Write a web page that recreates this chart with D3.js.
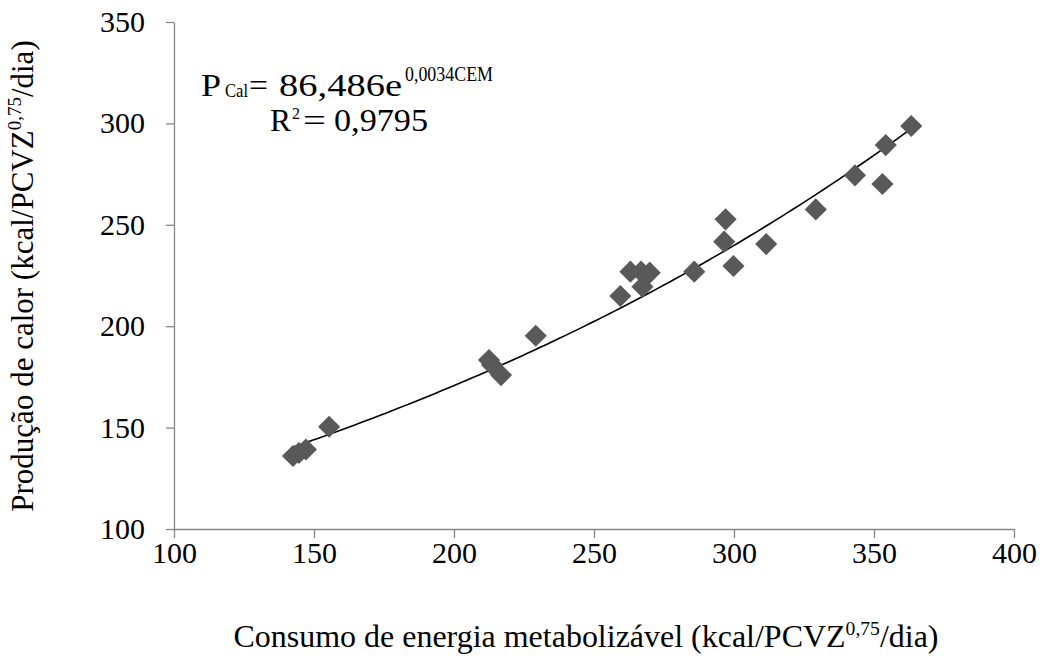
<!DOCTYPE html>
<html><head><meta charset="utf-8">
<script src="https://cdn.jsdelivr.net/npm/d3@7"></script>
<style>body{margin:0;background:#fff}svg{display:block}text{font-family:"Liberation Serif","Times New Roman",serif;fill:#000}</style>
</head><body><svg id="c" width="1043" height="659"></svg>
<script>
const cem = [142.5,144.6,147.1,155.4,212.5,213.6,216.8,229.2,259.4,263.0,266.8,269.9,267.3,285.8,297.0,296.5,299.8,311.5,329.2,343.2,353.0,354.2,363.3];
const pcal = [136.0,137.5,139.2,150.4,183.3,180.9,175.9,195.3,214.9,226.9,226.9,226.4,219.5,226.9,252.7,241.7,229.7,240.5,257.6,274.4,270.1,289.3,298.7];
const xTicks = [100,150,200,250,300,350,400];
const yTicks = [100,150,200,250,300,350];
const fitA = 86.486, fitB = 0.0034;
const fitRange = [142.5, 363.3];

const svg = d3.select("#c");
const x = d3.scaleLinear().domain([100,400]).range([174,1014]);
const y = d3.scaleLinear().domain([100,350]).range([529,22]);

const gx = svg.append("g").attr("transform","translate(0,529)")
  .call(d3.axisBottom(x).tickValues(xTicks).tickSize(9).tickSizeOuter(0).tickPadding(0));
const gy = svg.append("g").attr("transform","translate(174,0)")
  .call(d3.axisLeft(y).tickValues(yTicks).tickSize(8).tickSizeOuter(0).tickPadding(0));
[gx,gy].forEach(g=>{
  g.select(".domain").attr("stroke","#868686").attr("stroke-width",1.3);
  g.selectAll(".tick line").attr("stroke","#868686").attr("stroke-width",1.3);
  g.selectAll("text").attr("font-size",30).attr("font-family","Liberation Serif").attr("fill","#000");
});
gx.selectAll(".tick text").attr("dy",null).attr("y",34);
gy.selectAll(".tick text").attr("dy",null).attr("x",-29).attr("y",9.5).attr("text-anchor","end");

// trendline
const xs = d3.range(fitRange[0], fitRange[1]+0.01, (fitRange[1]-fitRange[0])/100);
svg.append("path").datum(xs)
  .attr("d", d3.line().x(d=>x(d)).y(d=>y(fitA*Math.exp(fitB*d))))
  .attr("fill","none").attr("stroke","#000").attr("stroke-width",1.6);

// points
const sym = d3.symbol().type(d3.symbolSquare).size(245);
svg.append("g").selectAll("path").data(cem.map((v,i)=>[v,pcal[i]])).join("path")
  .attr("d", sym)
  .attr("transform", d=>"translate("+x(d[0])+","+y(d[1])+") rotate(45)")
  .attr("fill","#595959");

// equation
function t(xp, yp, s, size, len){
  const e = svg.append("text").attr("x",xp).attr("y",yp).attr("font-size",size).text(s);
  if(len){ e.attr("textLength",len).attr("lengthAdjust","spacingAndGlyphs"); }
  return e;
}
t(201,96,"P",32,20);
t(225,97,"Cal",19,23);
t(249,96,"=",32,19);
t(279,96,"86,486e",32,123);
t(405,81,"0,0034CEM",20,88);
t(270,131,"R",32,21);
t(292,119,"2",16,8);
t(303,131,"=",32,23);
t(334,131,"0,9795",32,94);

// axis titles
const xt = svg.append("text").attr("font-size",31).attr("text-anchor","middle")
  .attr("transform","translate(586,647) scale(1.032,1)");
xt.append("tspan").text("Consumo de energia metabolizável (kcal/PCVZ");
xt.append("tspan").attr("font-size",19).attr("dy",-12).text("0,75");
xt.append("tspan").attr("dy",12).text("/dia)");

const yt = svg.append("text").attr("font-size",31).attr("text-anchor","middle")
  .attr("transform","translate(33,276) rotate(-90)");
yt.append("tspan").text("Produção de calor (kcal/PCVZ");
yt.append("tspan").attr("font-size",19).attr("dy",-12).text("0,75");
yt.append("tspan").attr("dy",12).text("/dia)");
</script></body></html>
